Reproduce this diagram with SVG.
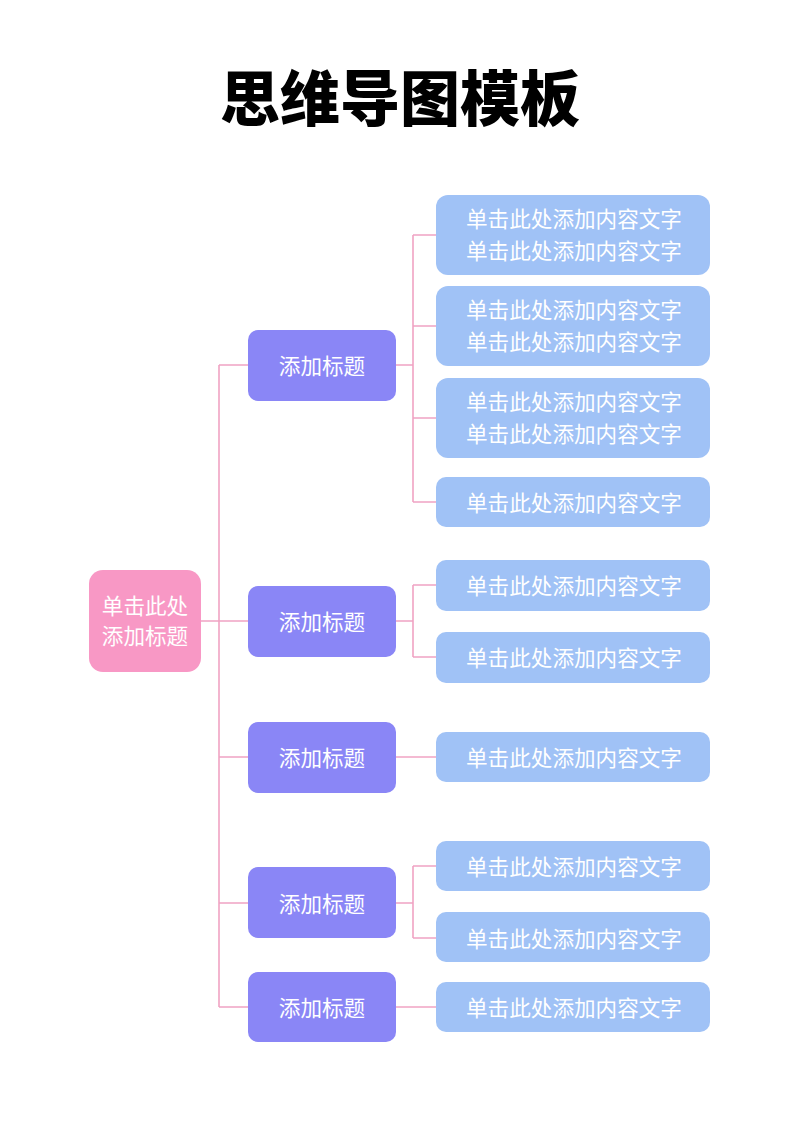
<svg xmlns="http://www.w3.org/2000/svg" width="800" height="1131" viewBox="0 0 800 1131">
<style>
.t{font-family:"Noto Sans CJK SC","Noto Sans",sans-serif;fill:#fff;font-size:21.6px;text-anchor:middle;dominant-baseline:central}
.root{fill:#F898C5}
.l1{fill:#8A86F6}
.leaf{fill:#A0C2F6}
.c{fill:none;stroke:#F0A3C3;stroke-width:1.6}
</style>
<rect width="800" height="1131" fill="#fff"/>
<text x="400" y="94" font-family="'Noto Sans CJK SC',sans-serif" font-weight="900" font-size="60" text-anchor="middle" dominant-baseline="central" fill="#000">思维导图模板</text>
<g id="connectors">
<path class="c" d="M201 621H219M219 365V1007M219 365H248M219 621H248M219 757H248M219 903H248M219 1007H248"/>
<path class="c" d="M396 365H413M413 235V502M413 235H436M413 326H436M413 418H436M413 502H436"/>
<path class="c" d="M396 621H413M413 585V657M413 585H436M413 657H436"/>
<path class="c" d="M396 757H436"/>
<path class="c" d="M396 903H413M413 866V938M413 866H436M413 938H436"/>
<path class="c" d="M396 1007H436"/>
</g>
<g id="root"><rect class="root" x="89" y="570" width="112" height="102" rx="14"/><text class="t" x="145" y="604">单击此处</text><text class="t" x="145" y="634">添加标题</text></g>
<g id="t1"><rect class="l1" x="248" y="330" width="148" height="71" rx="10"/><text class="t" x="322" y="364">添加标题</text></g>
<g id="t2"><rect class="l1" x="248" y="586" width="148" height="71" rx="10"/><text class="t" x="322" y="620">添加标题</text></g>
<g id="t3"><rect class="l1" x="248" y="722" width="148" height="71" rx="10"/><text class="t" x="322" y="756">添加标题</text></g>
<g id="t4"><rect class="l1" x="248" y="867" width="148" height="71" rx="10"/><text class="t" x="322" y="902">添加标题</text></g>
<g id="t5"><rect class="l1" x="248" y="972" width="148" height="70" rx="10"/><text class="t" x="322" y="1006">添加标题</text></g>
<g id="n1"><rect class="leaf" x="436" y="195" width="274" height="80" rx="12"/><text class="t" x="574" y="217">单击此处添加内容文字</text><text class="t" x="574" y="249">单击此处添加内容文字</text></g>
<g id="n2"><rect class="leaf" x="436" y="286" width="274" height="80" rx="12"/><text class="t" x="574" y="308">单击此处添加内容文字</text><text class="t" x="574" y="340">单击此处添加内容文字</text></g>
<g id="n3"><rect class="leaf" x="436" y="378" width="274" height="80" rx="12"/><text class="t" x="574" y="400">单击此处添加内容文字</text><text class="t" x="574" y="432">单击此处添加内容文字</text></g>
<g id="n4"><rect class="leaf" x="436" y="477" width="274" height="50" rx="10"/><text class="t" x="574" y="501">单击此处添加内容文字</text></g>
<g id="n5"><rect class="leaf" x="436" y="560" width="274" height="51" rx="10"/><text class="t" x="574" y="584">单击此处添加内容文字</text></g>
<g id="n6"><rect class="leaf" x="436" y="632" width="274" height="51" rx="10"/><text class="t" x="574" y="656">单击此处添加内容文字</text></g>
<g id="n7"><rect class="leaf" x="436" y="732" width="274" height="50" rx="10"/><text class="t" x="574" y="756">单击此处添加内容文字</text></g>
<g id="n8"><rect class="leaf" x="436" y="841" width="274" height="50" rx="10"/><text class="t" x="574" y="865">单击此处添加内容文字</text></g>
<g id="n9"><rect class="leaf" x="436" y="912" width="274" height="50" rx="10"/><text class="t" x="574" y="937">单击此处添加内容文字</text></g>
<g id="n10"><rect class="leaf" x="436" y="982" width="274" height="50" rx="10"/><text class="t" x="574" y="1006">单击此处添加内容文字</text></g>
</svg>
